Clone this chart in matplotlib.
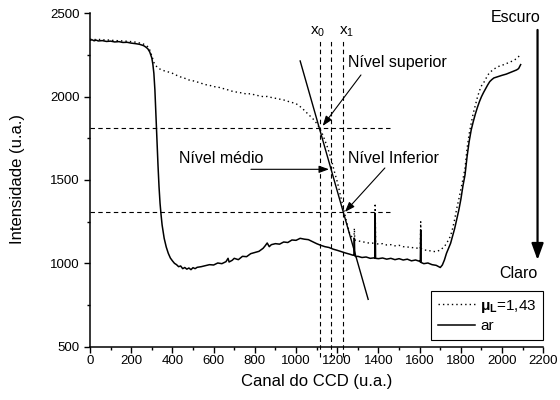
import matplotlib
matplotlib.use("Agg")
import matplotlib.pyplot as plt
from matplotlib.ticker import MultipleLocator

plt.rcParams['font.family'] = ['Liberation Sans', 'DejaVu Sans']
plt.rcParams['mathtext.fontset'] = 'custom'
plt.rcParams['mathtext.rm'] = 'Liberation Sans'
plt.rcParams['mathtext.it'] = 'Liberation Sans'
plt.rcParams['mathtext.bf'] = 'Liberation Sans:bold'

# ---- data: air (solid) ----
x_ar = [0, 10, 20, 30, 40, 60, 80, 100, 120, 140, 160, 180, 200, 220, 240, 260, 270, 280, 290, 300,
        305, 310, 315, 320, 325, 330, 335, 340, 345, 350, 360, 370, 380, 390, 400, 410, 420, 430, 440,
        450, 460, 470, 480, 490, 500, 510, 520, 540, 560, 580, 600, 620, 640, 660, 670, 675, 690, 700,
        720, 740, 760, 780, 800, 820, 840, 850, 860, 870, 880, 900, 920, 940, 960, 980, 1000, 1020,
        1040, 1060, 1080, 1100, 1120, 1140, 1160, 1180, 1200, 1220, 1240, 1260, 1278, 1281, 1283, 1285,
        1290, 1300, 1320, 1340, 1360, 1380, 1382, 1384, 1386, 1400, 1420, 1440, 1460, 1480, 1500, 1520,
        1540, 1560, 1580, 1600, 1603, 1605, 1607, 1620, 1640, 1660, 1680, 1700, 1710, 1720, 1730, 1740,
        1750, 1760, 1770, 1780, 1790, 1800, 1810, 1820, 1830, 1840, 1850, 1860, 1870, 1880, 1890, 1900,
        1910, 1920, 1930, 1940, 1950, 1960, 1980, 2000, 2020, 2040, 2060, 2070, 2080, 2085, 2090]
y_ar = [2338, 2341, 2335, 2339, 2334, 2336, 2331, 2333, 2328, 2330, 2325, 2326, 2321, 2318, 2314, 2306, 2298, 2288, 2268, 2232,
        2195, 2140, 2040, 1890, 1740, 1590, 1460, 1360, 1290, 1230, 1150, 1098, 1060, 1032, 1015, 1000, 992, 980, 984,
        968, 975, 965, 972, 962, 974, 968, 976, 980, 986, 992, 990, 1002, 998, 1010, 1030, 1008, 1018, 1030,
        1022, 1042, 1040, 1058, 1065, 1072, 1090, 1105, 1122, 1100, 1112, 1118, 1115, 1128, 1125, 1140, 1138, 1150,
        1145, 1142, 1130, 1118, 1108, 1100, 1095, 1085, 1078, 1070, 1062, 1055, 1048, 1050, 1150, 1045,
        1040, 1042, 1035, 1038, 1030, 1033, 1030, 1300, 1030, 1028, 1032, 1025, 1030, 1022, 1028, 1020,
        1025, 1015, 1020, 1012, 1008, 1200, 1005, 998, 1002, 992, 988, 975, 990, 1020, 1060, 1090,
        1120, 1165, 1210, 1265, 1320, 1385, 1465, 1530, 1640, 1730, 1800, 1850, 1895, 1935, 1970, 2000,
        2025, 2048, 2070, 2090, 2102, 2112, 2120, 2128, 2135, 2145, 2155, 2160, 2168, 2180, 2192]

# ---- data: mu_L = 1,43 (dotted) ----
x_mu = [0, 20, 40, 60, 80, 100, 120, 140, 160, 180, 200, 220, 240, 260, 280, 290, 300, 310, 320, 330,
        340, 360, 380, 400, 420, 440, 460, 480, 500, 520, 540, 560, 580, 600, 620, 640, 660, 680, 700,
        720, 740, 760, 780, 800, 820, 840, 860, 880, 900, 920, 940, 960, 980, 1000, 1020, 1040, 1060,
        1080, 1100, 1115, 1130, 1150, 1170, 1185, 1200, 1215, 1230, 1245, 1260, 1275, 1281, 1283, 1285,
        1300, 1320, 1340, 1360, 1380, 1382, 1384, 1386, 1400, 1420, 1440, 1460, 1480, 1500, 1520, 1540,
        1560, 1580, 1600, 1603, 1605, 1607, 1620, 1640, 1660, 1680, 1700, 1720, 1740, 1750, 1760, 1770,
        1780, 1790, 1800, 1810, 1820, 1830, 1840, 1850, 1860, 1870, 1880, 1890, 1900, 1910, 1920, 1930,
        1940, 1960, 1980, 2000, 2020, 2040, 2060, 2070, 2080, 2090]
y_mu = [2345, 2342, 2344, 2340, 2341, 2338, 2337, 2335, 2334, 2332, 2330, 2327, 2322, 2315, 2300, 2280, 2245, 2205, 2185, 2172,
        2165, 2155, 2148, 2140, 2128, 2118, 2110, 2100, 2095, 2088, 2080, 2072, 2068, 2060, 2058, 2050, 2045, 2035, 2030,
        2025, 2022, 2015, 2018, 2010, 2005, 2000, 2001, 1995, 1990, 1985, 1980, 1972, 1965, 1958, 1940, 1918, 1893,
        1870, 1840, 1810, 1770, 1705, 1630, 1555, 1490, 1410, 1330, 1250, 1180, 1150, 1145, 1210, 1140,
        1135, 1130, 1125, 1120, 1122, 1120, 1360, 1120, 1115, 1118, 1110, 1112, 1105, 1108, 1100, 1098,
        1095, 1092, 1090, 1088, 1250, 1088, 1080, 1078, 1072, 1070, 1080, 1100, 1140, 1165, 1210, 1265,
        1330, 1385, 1445, 1505, 1570, 1690, 1775, 1840, 1900, 1948, 1995, 2035, 2065, 2082, 2105, 2128,
        2145, 2165, 2180, 2188, 2198, 2208, 2220, 2228, 2240, 2258]

# ---- guide / annotation geometry (data coordinates) ----
x_marks = [1115, 1170, 1227]          # vertical dashed lines (x0, middle, x1)
y_levels = [1810, 1310]               # horizontal dashed lines (upper, lower)
level_line_x = [0, 1465]
tangent_x = [1020, 1350]
tangent_y = [2214, 784]

fig = plt.figure(figsize=(5.6, 4.0), dpi=100)
ax = fig.add_axes([0.1607, 0.1333, 0.8095, 0.8335])

ax.plot(x_mu, y_mu, color='black', lw=1.0, linestyle=(0, (1, 2.2)), label=r'$\mathbf{\mu_L}$=1,43')
ax.plot(x_ar, y_ar, color='black', lw=1.1, label='ar')

for xv in x_marks:
    ax.plot([xv, xv], [438, 2340], color='black', lw=0.8, linestyle=(0, (4, 3)), clip_on=False)
for yv in y_levels:
    ax.plot(level_line_x, [yv, yv], color='black', lw=0.8, linestyle=(0, (4, 3)))
ax.plot(tangent_x, tangent_y, color='black', lw=1.0)

ax.text(1105, 2390, r'x$_\mathregular{0}$', fontsize=11, ha='center', va='center')
ax.text(1247, 2390, r'x$_\mathregular{1}$', fontsize=11, ha='center', va='center')

AFS = 11.5
aprops = dict(arrowstyle='-|>,head_length=0.5,head_width=0.18', lw=0.8, color='black',
              mutation_scale=12, shrinkA=0, shrinkB=0)
ax.text(1253, 2202, 'Nível superior', fontsize=AFS, ha='left', va='center')
ax.annotate('', xy=(1129, 1824), xytext=(1315, 2130), arrowprops=aprops)
ax.text(636, 1626, 'Nível médio', fontsize=AFS, ha='center', va='center')
ax.annotate('', xy=(1160, 1564), xytext=(781, 1564), arrowprops=aprops)
ax.text(1253, 1626, 'Nível Inferior', fontsize=AFS, ha='left', va='center')
ax.annotate('', xy=(1237, 1308), xytext=(1431, 1572), arrowprops=aprops)

ax.text(2067, 2477, 'Escuro', fontsize=AFS, ha='center', va='center')
ax.text(2081, 936, 'Claro', fontsize=AFS, ha='center', va='center')
ax.annotate('', xy=(2172, 1020), xytext=(2172, 2400),
            arrowprops=dict(arrowstyle='-|>,head_length=0.55,head_width=0.2', lw=1.6, color='black',
                            mutation_scale=18, shrinkA=0, shrinkB=0))

ax.set_xlim(0, 2200)
ax.set_ylim(500, 2500)
ax.xaxis.set_major_locator(MultipleLocator(200))
ax.xaxis.set_minor_locator(MultipleLocator(100))
ax.yaxis.set_major_locator(MultipleLocator(500))
ax.yaxis.set_minor_locator(MultipleLocator(250))
ax.tick_params(which='major', direction='out', length=4.5, width=1, labelsize=9.5)
ax.tick_params(axis='x', which='major', pad=1.5)
ax.tick_params(axis='y', which='major', pad=3)
ax.tick_params(which='minor', direction='out', length=2.5, width=1)
for s in ['top', 'right']:
    ax.spines[s].set_visible(False)
for s in ['left', 'bottom']:
    ax.spines[s].set_linewidth(1.1)

ax.set_xlabel('Canal do CCD (u.a.)', fontsize=12)
ax.set_ylabel('Intensidade (u.a.)', fontsize=12)
ax.xaxis.label.set_va('center')
ax.yaxis.label.set_va('center')
ax.xaxis.set_label_coords(0.5, -0.105)
ax.yaxis.set_label_coords(-0.159, 0.504)

leg = ax.legend(loc='lower right', bbox_to_anchor=(1.0, 0.02), borderaxespad=0, fontsize=11,
                frameon=True, fancybox=False, edgecolor='black', framealpha=1,
                handlelength=2.4, handletextpad=0.35, borderpad=0.45, labelspacing=0.3)
leg.get_frame().set_linewidth(0.8)

fig.savefig('out.png', dpi=100)
